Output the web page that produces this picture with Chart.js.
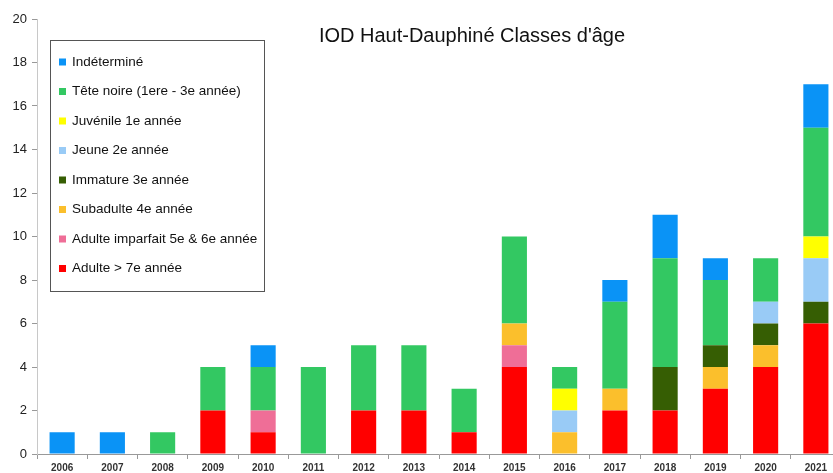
<!DOCTYPE html>
<html>
<head>
<meta charset="utf-8">
<script src="https://cdn.jsdelivr.net/npm/chart.js@4/dist/chart.umd.min.js"></script>
<style>
  html, body { margin: 0; padding: 0; background: #ffffff; overflow: hidden; }
  #wrap { position: relative; width: 841px; height: 473px; }
</style>
</head>
<body>
<div id="wrap"><canvas id="chart"></canvas></div>
<script>
var years = ["2006", "2007", "2008", "2009", "2010", "2011", "2012", "2013", "2014", "2015", "2016", "2017", "2018", "2019", "2020", "2021"]

// stack order, bottom to top
var adulte = [0, 0, 0, 2, 1, 0, 2, 2, 1, 4, 0, 2, 2, 3, 4, 6]
var adulteImparfait = [0, 0, 0, 0, 1, 0, 0, 0, 0, 1, 0, 0, 0, 0, 0, 0]
var subadulte = [0, 0, 0, 0, 0, 0, 0, 0, 0, 1, 1, 1, 0, 1, 1, 0]
var immature = [0, 0, 0, 0, 0, 0, 0, 0, 0, 0, 0, 0, 2, 1, 1, 1]
var jeune = [0, 0, 0, 0, 0, 0, 0, 0, 0, 0, 1, 0, 0, 0, 1, 2]
var juvenile = [0, 0, 0, 0, 0, 0, 0, 0, 0, 0, 1, 0, 0, 0, 0, 1]
var teteNoire = [0, 0, 1, 2, 2, 4, 3, 3, 2, 4, 1, 4, 5, 3, 2, 5]
var indetermine = [1, 1, 0, 0, 1, 0, 0, 0, 0, 0, 0, 1, 2, 1, 0, 2]

var yTicks = [0, 2, 4, 6, 8, 10, 12, 14, 16, 18, 20]

var series = [
  { label: "Adulte > 7e année", data: adulte, color: "#ff0000" },
  { label: "Adulte imparfait 5e & 6e année", data: adulteImparfait, color: "#ef6e97" },
  { label: "Subadulte 4e année", data: subadulte, color: "#fbbf2c" },
  { label: "Immature 3e année", data: immature, color: "#365e03" },
  { label: "Jeune 2e année", data: jeune, color: "#99cbf6" },
  { label: "Juvénile 1e année", data: juvenile, color: "#ffff00" },
  { label: "Tête noire (1ere - 3e année)", data: teteNoire, color: "#33c862" },
  { label: "Indéterminé", data: indetermine, color: "#0a93f6" }
]

var FONT = "'Liberation Sans', Arial, sans-serif"

// legend box with a border and the title, drawn on top of the plot
var boxLegend = {
  id: "boxLegend",
  afterDraw: function (chart) {
    var ctx = chart.ctx
    ctx.save()
    ctx.strokeStyle = "#555555"
    ctx.lineWidth = 1
    ctx.strokeRect(50.5, 40.5, 214, 251)
    ctx.font = "13.5px " + FONT
    ctx.textBaseline = "middle"
    ctx.textAlign = "left"
    var ds = chart.data.datasets
    for (var i = 0; i < ds.length; i++) {
      var d = ds[ds.length - 1 - i]
      var y = 62 + i * 29.5
      ctx.fillStyle = d.backgroundColor
      ctx.fillRect(59, y - 3.5, 7, 7)
      ctx.fillStyle = "#111111"
      ctx.fillText(d.label, 72, y)
    }
    ctx.font = "20px " + FONT
    ctx.textAlign = "center"
    ctx.fillStyle = "#111111"
    ctx.fillText("IOD Haut-Dauphiné Classes d'âge", 472, 36)
    ctx.restore()
  }
}

var datasets = series.map(function (s) {
  return {
    label: s.label,
    data: s.data,
    backgroundColor: s.color,
    borderWidth: 0,
    barPercentage: 0.5,
    categoryPercentage: 1.0
  }
})

new Chart(document.getElementById("chart"), {
  type: "bar",
  data: { labels: years, datasets: datasets },
  plugins: [boxLegend],
  options: {
    responsive: true,
    maintainAspectRatio: false,
    animation: false,
    layout: { padding: { top: 19, left: 0, right: 0, bottom: 0 } },
    plugins: {
      legend: { display: false },
      title: { display: false },
      tooltip: { enabled: false }
    },
    scales: {
      x: {
        stacked: true,
        afterFit: function (scale) { scale.height = 19 },
        border: { color: "#999999", width: 1 },
        grid: { drawOnChartArea: false, tickLength: 5, color: "#999999", offset: true },
        ticks: {
          autoSkip: false,
          maxRotation: 0,
          padding: 3,
          color: "#333333",
          font: { family: FONT, size: 10, weight: "bold" }
        }
      },
      y: {
        stacked: true,
        min: 0,
        max: 20,
        afterFit: function (scale) { scale.width = 37 },
        afterBuildTicks: function (scale) {
          scale.ticks = yTicks.map(function (v) { return { value: v } })
        },
        border: { color: "#c8c8c8", width: 1 },
        grid: { drawOnChartArea: false, tickLength: 5, color: "#999999" },
        ticks: {
          padding: 5,
          color: "#222222",
          font: { family: FONT, size: 13 }
        }
      }
    }
  }
})
</script>
</body>
</html>
